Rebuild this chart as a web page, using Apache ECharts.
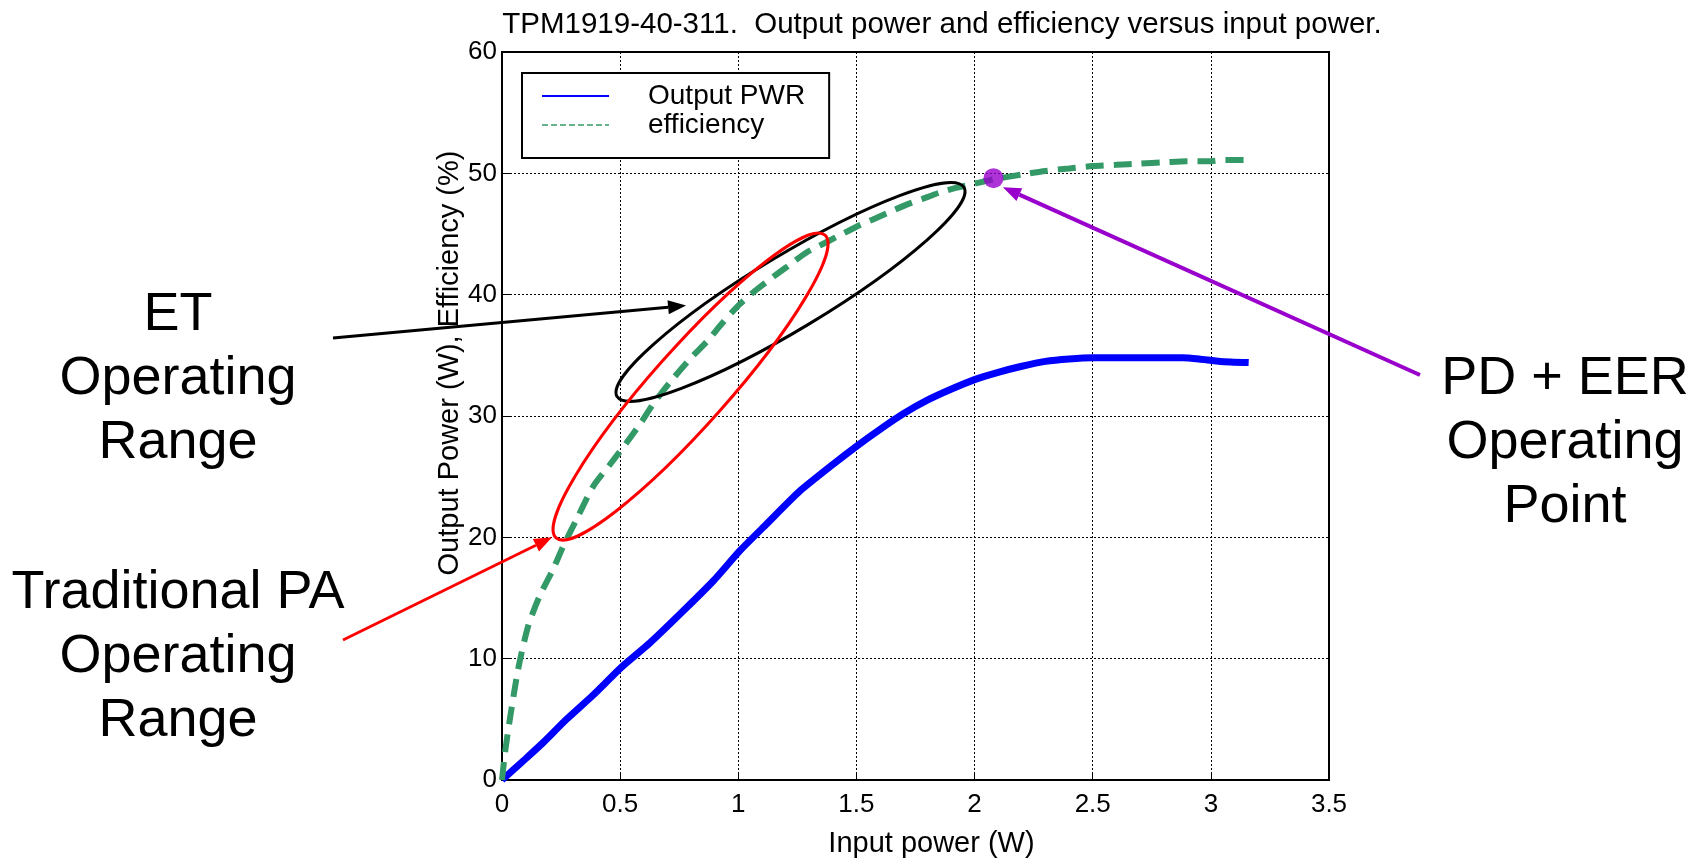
<!DOCTYPE html>
<html><head><meta charset="utf-8">
<script src="https://cdn.jsdelivr.net/npm/echarts@6.0.0/dist/echarts.min.js"></script>
<style>html,body{margin:0;padding:0;background:#fff}#c{width:1700px;height:863px}</style>
</head><body><div id="c"></div>
<script>
// ---- data ----
const titleText = 'TPM1919-40-311.  Output power and efficiency versus input power.';
const xTickValues = [0, 0.5, 1, 1.5, 2, 2.5, 3, 3.5];
const yTickValues = [0, 10, 20, 30, 40, 50, 60];

const pwrInput = [0, 0.1, 0.175, 0.273, 0.386, 0.506, 0.626, 0.76, 0.894, 1.007, 1.12, 1.26, 1.40, 1.5, 1.6, 1.7, 1.8, 1.9, 2.0, 2.1, 2.2, 2.3, 2.4, 2.5, 2.6, 2.75, 2.88, 2.95, 3.04, 3.16];
const pwrOutput = [0, 1.75, 3.1, 5.0, 7.0, 9.3, 11.3, 13.8, 16.4, 18.9, 21.1, 23.8, 26.0, 27.5, 28.9, 30.2, 31.3, 32.2, 33.0, 33.6, 34.1, 34.5, 34.7, 34.8, 34.8, 34.8, 34.8, 34.7, 34.5, 34.4];

const effInput = [0, 0.013, 0.034, 0.069, 0.111, 0.16, 0.217, 0.26, 0.316, 0.386, 0.457, 0.527, 0.59, 0.64, 0.72, 0.8, 0.87, 0.93, 1.0, 1.07, 1.15, 1.22, 1.29, 1.36, 1.43, 1.5, 1.57, 1.64, 1.71, 1.78, 1.85, 1.92, 1.99, 2.08, 2.2, 2.3, 2.4, 2.5, 2.6, 2.7, 2.8, 2.9, 3.0, 3.05, 3.16];
const effValue = [0, 2.3, 5.1, 9.2, 12.7, 15.2, 17.4, 19.3, 21.5, 24.2, 26.0, 27.8, 29.5, 31.0, 33.0, 34.8, 36.2, 37.6, 39.1, 40.3, 41.5, 42.5, 43.5, 44.2, 44.9, 45.6, 46.2, 46.8, 47.4, 47.9, 48.4, 48.8, 49.1, 49.5, 49.9, 50.2, 50.4, 50.6, 50.7, 50.8, 50.9, 51.0, 51.0, 51.1, 51.1];

const operatingPoint = [2.08, 49.6];

// annotation anchors (data units)
const etEllipseEnds = [[0.487, 31.6], [1.955, 48.85]];
const paEllipseEnds = [[0.229, 19.95], [1.367, 44.9]];
const etArrowTip = [0.779, 39.1];
const paArrowTip = [0.212, 20.0];
const pdArrowTip = [2.12, 48.85];

const FONT = 'Liberation Sans, Arial, Helvetica, sans-serif';
const zip = (a, b) => a.map((v, i) => [v, b[i]]);

const chart = echarts.init(document.getElementById('c'));
const option = {
  animation: false,
  backgroundColor: '#fff',
  title: {
    text: titleText, left: 937, top: 5, textAlign: 'center',
    textStyle: { fontFamily: FONT, fontSize: 29.5, fontWeight: 'normal', color: '#000' }
  },
  grid: { left: 502, right: 371, top: 52, bottom: 80, show: true, borderColor: '#000', borderWidth: 2, backgroundColor: 'transparent' },
  legend: {
    orient: 'vertical', left: 522, top: 73,
    padding: [9, 24, 19, 19], itemGap: 1, itemWidth: 67, itemHeight: 14,
    borderColor: '#000', borderWidth: 2, backgroundColor: '#fff',
    itemStyle: { opacity: 0 },
    textStyle: { fontFamily: FONT, fontSize: 28, color: '#000', padding: [0, 0, 0, 34], lineHeight: 28 },
    data: [
      { name: 'Output PWR', lineStyle: { width: 2, type: 'solid' }, itemStyle: { opacity: 0 } },
      { name: 'efficiency', lineStyle: { width: 1.6, type: [6, 3] }, itemStyle: { opacity: 0 } }
    ]
  },
  xAxis: {
    type: 'value', min: 0, max: 3.5, interval: 0.5,
    name: 'Input power (W)', nameLocation: 'middle', nameGap: 49,
    nameTextStyle: { fontFamily: FONT, fontSize: 29, color: '#000', padding: [0, 0, 0, 32] },
    axisLine: { show: true, lineStyle: { color: '#000', width: 2 } },
    axisTick: { show: true, inside: true, length: 8, lineStyle: { color: '#000' } },
    axisLabel: { fontFamily: FONT, fontSize: 26, color: '#000', margin: 12, showMinLabel: true, showMaxLabel: true,
      formatter: v => String(v) },
    splitLine: { show: true, lineStyle: { color: '#000', width: 1, type: [2, 2] } }
  },
  yAxis: {
    type: 'value', min: 0, max: 60, interval: 10,
    axisLine: { show: true, lineStyle: { color: '#000', width: 2 } },
    axisTick: { show: true, inside: true, length: 8, lineStyle: { color: '#000' } },
    axisLabel: { fontFamily: FONT, fontSize: 26, color: '#000', margin: 5, showMinLabel: true, showMaxLabel: true },
    splitLine: { show: true, lineStyle: { color: '#000', width: 1, type: [2, 2] } }
  },
  series: [
    { name: 'Output PWR', type: 'line', data: zip(pwrInput, pwrOutput), symbol: 'none', smooth: 0.2,
      lineStyle: { color: '#0000ff', width: 7 }, itemStyle: { color: '#0000ff' }, z: 3 },
    { name: 'efficiency', type: 'line', data: zip(effInput, effValue), symbol: 'none', smooth: 0.25,
      lineStyle: { color: '#339966', width: 6, type: [18, 10] }, itemStyle: { color: '#339966' }, z: 3 },
    { name: 'PD + EER point', type: 'scatter', data: [operatingPoint], symbolSize: 20,
      itemStyle: { color: '#9900cc' }, z: 5 }
  ]
};
chart.setOption(option);

const px = p => chart.convertToPixel({ gridIndex: 0 }, p);

function ellipseEl(ends, ry, color) {
  const a = px(ends[0]), b = px(ends[1]);
  const cx = (a[0] + b[0]) / 2, cy = (a[1] + b[1]) / 2;
  const rx = Math.hypot(b[0] - a[0], b[1] - a[1]) / 2;
  const rot = Math.atan2(a[1] - b[1], b[0] - a[0]);
  return { type: 'ellipse', x: cx, y: cy, rotation: rot, z: 10,
    shape: { cx: 0, cy: 0, rx: rx, ry: ry },
    style: { fill: 'none', stroke: color, lineWidth: 3 } };
}
function arrowEls(start, tipData, color, width) {
  const t = px(tipData);
  const dx = t[0] - start[0], dy = t[1] - start[1];
  const len = Math.hypot(dx, dy), ux = dx / len, uy = dy / len;
  const L = 18, W = 7;
  const bx = t[0] - ux * L, by = t[1] - uy * L;
  return [
    { type: 'line', z: 10, shape: { x1: start[0], y1: start[1], x2: bx, y2: by },
      style: { stroke: color, lineWidth: width } },
    { type: 'polygon', z: 10, shape: { points: [[t[0], t[1]], [bx - uy * W, by + ux * W], [bx + uy * W, by - ux * W]] },
      style: { fill: color } }
  ];
}
const bigText = (x, y, txt) => ({ type: 'text', x: x, y: y, z: 10,
  style: { text: txt, fontFamily: FONT, fontSize: 54, fill: '#000', align: 'center', verticalAlign: 'middle', lineHeight: 64 } });

chart.setOption({
  graphic: [
    { type: 'text', x: 450, y: 363, rotation: Math.PI / 2, z: 10,
      style: { text: 'Output Power (W), Efficiency (%)', fontFamily: FONT, fontSize: 29, fill: '#000', align: 'center', verticalAlign: 'middle' } },
    ellipseEl(etEllipseEnds, 37, '#000'),
    ellipseEl(paEllipseEnds, 38, '#ff0000'),
    ...arrowEls([333, 338], etArrowTip, '#000', 3),
    ...arrowEls([343, 640], paArrowTip, '#ff0000', 3),
    ...arrowEls([1420, 375], pdArrowTip, '#9900cc', 4),
    bigText(178, 379, 'ET\nOperating\nRange'),
    bigText(178, 657, 'Traditional PA\nOperating\nRange'),
    bigText(1565, 443, 'PD + EER\nOperating\nPoint')
  ]
});
</script></body></html>
